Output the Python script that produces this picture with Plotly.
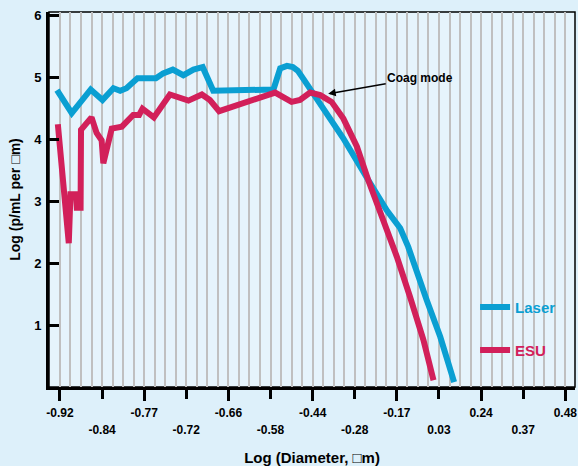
import plotly.graph_objects as go

# Tick labels (evenly spaced categories on the x axis)
tick_labels = ["-0.92", "-0.84", "-0.77", "-0.72", "-0.66", "-0.58", "-0.44",
               "-0.28", "-0.17", "0.03", "0.24", "0.37", "0.48"]
tick_pos = list(range(len(tick_labels)))

# Laser series (x in tick-index units, y = log concentration)
laser_x = [-0.07, 0.28, 0.73, 1.01, 1.27, 1.43, 1.58, 1.84, 2.28, 2.45, 2.68, 2.93,
           3.17, 3.39, 3.64, 5.07, 5.23, 5.39, 5.53, 5.65, 5.80, 6.01, 6.18, 6.72,
           7.32, 7.76, 8.08, 8.27, 8.71, 9.03, 9.36]
laser_y = [4.79, 4.42, 4.80, 4.63, 4.82, 4.78, 4.82, 4.98, 4.98, 5.06, 5.12, 5.03,
           5.12, 5.16, 4.78, 4.80, 5.14, 5.18, 5.16, 5.10, 4.95, 4.74, 4.58, 4.02,
           3.34, 2.85, 2.56, 2.26, 1.40, 0.81, 0.08]

# ESU series
esu_x = [-0.05, 0.21, 0.25, 0.38, 0.40, 0.49, 0.50, 0.75, 0.87, 0.99, 1.03, 1.23,
         1.47, 1.74, 1.88, 1.96, 2.23, 2.61, 3.05, 3.37, 3.56, 3.78, 5.11, 5.50,
         5.70, 5.94, 6.18, 6.45, 6.73, 7.05, 7.32, 7.68, 8.00, 8.31, 8.63, 8.87]
esu_y = [4.24, 2.32, 3.11, 3.11, 2.89, 2.89, 4.15, 4.35, 4.10, 3.98, 3.61, 4.17,
         4.20, 4.39, 4.39, 4.49, 4.35, 4.72, 4.62, 4.72, 4.63, 4.45, 4.75, 4.60,
         4.63, 4.75, 4.71, 4.60, 4.33, 3.88, 3.34, 2.69, 2.10, 1.46, 0.76, 0.11]

y_ticks = [1, 2, 3, 4, 5, 6]

BLUE = "#0a9fd2"
RED = "#d2205a"
FONT = "Liberation Sans, Arial, sans-serif"
XRANGE = [-0.26, 12.23]

fig = go.Figure()
fig.add_trace(go.Scatter(x=laser_x, y=laser_y, mode="lines",
                         line=dict(color=BLUE, width=6),
                         name=f"<span style='color:{BLUE}'>Laser</span>",
                         legend="legend"))
fig.add_trace(go.Scatter(x=esu_x, y=esu_y, mode="lines",
                         line=dict(color=RED, width=6),
                         name=f"<span style='color:{RED}'>ESU</span>",
                         legend="legend2"))
# carrier for the second (staggered) row of tick labels
fig.add_trace(go.Scatter(x=[tick_pos[0]], y=[0], mode="none", xaxis="x2",
                         showlegend=False, hoverinfo="skip"))

even = tick_pos[0::2]
odd = tick_pos[1::2]

fig.update_layout(
    width=578, height=466,
    margin=dict(l=49, r=3, t=12, b=79),
    paper_bgcolor="#ddf0fa",
    plot_bgcolor="#e6f4fc",
    font=dict(family=FONT, color="black"),
    xaxis=dict(
        range=XRANGE, tickmode="array", tickvals=even,
        ticktext=[tick_labels[i] for i in even], automargin=False,
        ticks="outside", ticklen=11, tickwidth=3, tickcolor="black",
        showline=True, linewidth=3, linecolor="black",
        showgrid=True, gridcolor="#c0c0c0", gridwidth=1.5, zeroline=False,
        tickfont=dict(size=12, weight="bold"), ticklabelstandoff=2,
        minor=dict(tickmode="linear", tick0=0, dtick=0.25, showgrid=True,
                   gridcolor="#c0c0c0", gridwidth=1.5, ticks=""),
        title=dict(text="Log (Diameter, □m)", font=dict(size=15, weight="bold"),
                   standoff=35),
    ),
    xaxis2=dict(
        range=XRANGE, overlaying="x", anchor="y", side="bottom", automargin=False,
        tickmode="array", tickvals=odd, ticktext=[tick_labels[i] for i in odd],
        ticks="outside", ticklen=11, tickwidth=3, tickcolor="black",
        showline=False, showgrid=False, zeroline=False,
        tickfont=dict(size=12, weight="bold"), ticklabelstandoff=21,
    ),
    yaxis=dict(
        range=[0, 6.05], tickmode="array", tickvals=y_ticks, automargin=False,
        ticks="inside", ticklen=10, tickwidth=3, tickcolor="black",
        showline=True, linewidth=3, linecolor="black",
        showgrid=False, zeroline=False,
        tickfont=dict(size=13, weight="bold"), ticklabelstandoff=2,
        title=dict(text="Log (p/mL per □m)", font=dict(size=14, weight="bold"),
                   standoff=11),
    ),
    legend=dict(x=0.81, y=0.257, xanchor="left", yanchor="top",
                bgcolor="rgba(0,0,0,0)", font=dict(size=15, weight="bold")),
    legend2=dict(x=0.81, y=0.142, xanchor="left", yanchor="top",
                 bgcolor="rgba(0,0,0,0)", font=dict(size=15, weight="bold")),
    shapes=[dict(type="rect", xref="paper", yref="paper", x0=0, x1=1, y0=0, y1=1,
                 line=dict(color="black", width=1.5), layer="below")],
    annotations=[dict(x=6.37, y=4.73, xref="x", yref="y", text="Coag mode",
                      showarrow=True, ax=92, ay=-16, arrowhead=2, arrowsize=1,
                      arrowwidth=1.5, arrowcolor="black", standoff=0,
                      font=dict(size=12, weight="bold", color="black"))],
    showlegend=True,
)

fig.write_html("out.html", config={"displayModeBar": False},
               post_script="document.body.style.margin='0px';"
                           "document.body.style.overflow='hidden';")
